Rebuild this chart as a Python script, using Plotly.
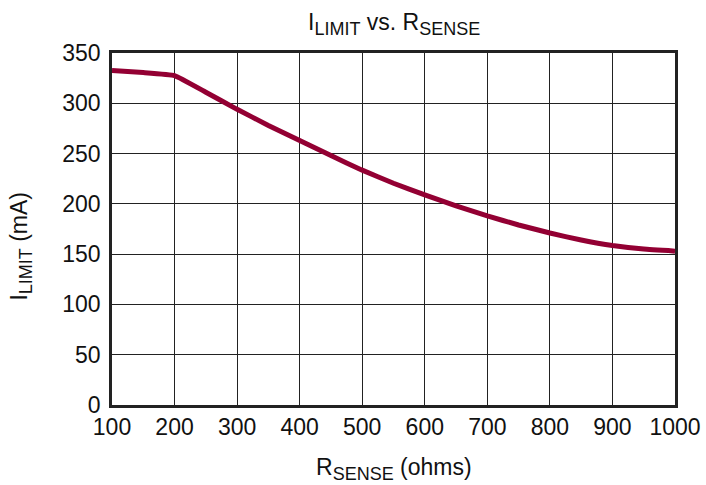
import plotly.graph_objects as go

r_sense = [100, 150, 200, 250, 300, 350, 400, 450, 500, 550, 600, 650, 700, 750, 800, 850, 900, 950, 1000]
i_limit = [332.5, 330.5, 327.5, 311, 294, 278, 263, 248, 233.5, 220.5, 209, 198, 188, 179, 171, 164, 158.5, 155, 153]

x_ticks = [100, 200, 300, 400, 500, 600, 700, 800, 900, 1000]
y_ticks = [0, 50, 100, 150, 200, 250, 300, 350]

FONT = "Liberation Sans, Arial, sans-serif"
FS = 23


def sub(s):
    return '<sub><span style="font-size:18px">' + s + '</span></sub>'


fig = go.Figure()
fig.add_trace(go.Scatter(
    x=r_sense, y=i_limit, mode="lines",
    line=dict(color="#930033", width=5, shape="spline", smoothing=0.3),
    showlegend=False,
))

fig.update_layout(
    width=706, height=485,
    margin=dict(l=112, r=31, t=53, b=80),
    paper_bgcolor="white", plot_bgcolor="white",
    font=dict(family=FONT, size=FS, color="#111"),
    xaxis=dict(range=[100, 1000], tickvals=x_ticks, ticks="", showgrid=True,
               gridcolor="#222", gridwidth=1.3, showline=True, linecolor="#222",
               linewidth=2.5, mirror=True, zeroline=False, tickfont=dict(size=FS),
               automargin=False),
    yaxis=dict(range=[0, 350], tickvals=y_ticks, ticks="", showgrid=True,
               gridcolor="#222", gridwidth=1.3, showline=True, linecolor="#222",
               linewidth=2.5, mirror=True, zeroline=False, tickfont=dict(size=FS),
               ticklabelstandoff=4, automargin=False),
    annotations=[
        dict(text="I" + sub("LIMIT") + " vs. R" + sub("SENSE"), xref="paper", yref="paper",
             x=0.5, y=1, yanchor="bottom", yshift=12, showarrow=False, font=dict(size=FS)),
        dict(text="R" + sub("SENSE") + " (ohms)", xref="paper", yref="paper",
             x=0.5, y=0, yanchor="top", yshift=-47, showarrow=False, font=dict(size=FS)),
        dict(text="I" + sub("LIMIT") + " (mA)", xref="paper", yref="paper",
             x=0, y=0.45, xanchor="right", yanchor="middle", xshift=-74, textangle=-90,
             showarrow=False, font=dict(size=FS)),
    ],
)

fig.write_html(
    "out.html",
    config={"displayModeBar": False},
    post_script="document.body.style.margin='0px';document.body.style.overflow='hidden';",
)
